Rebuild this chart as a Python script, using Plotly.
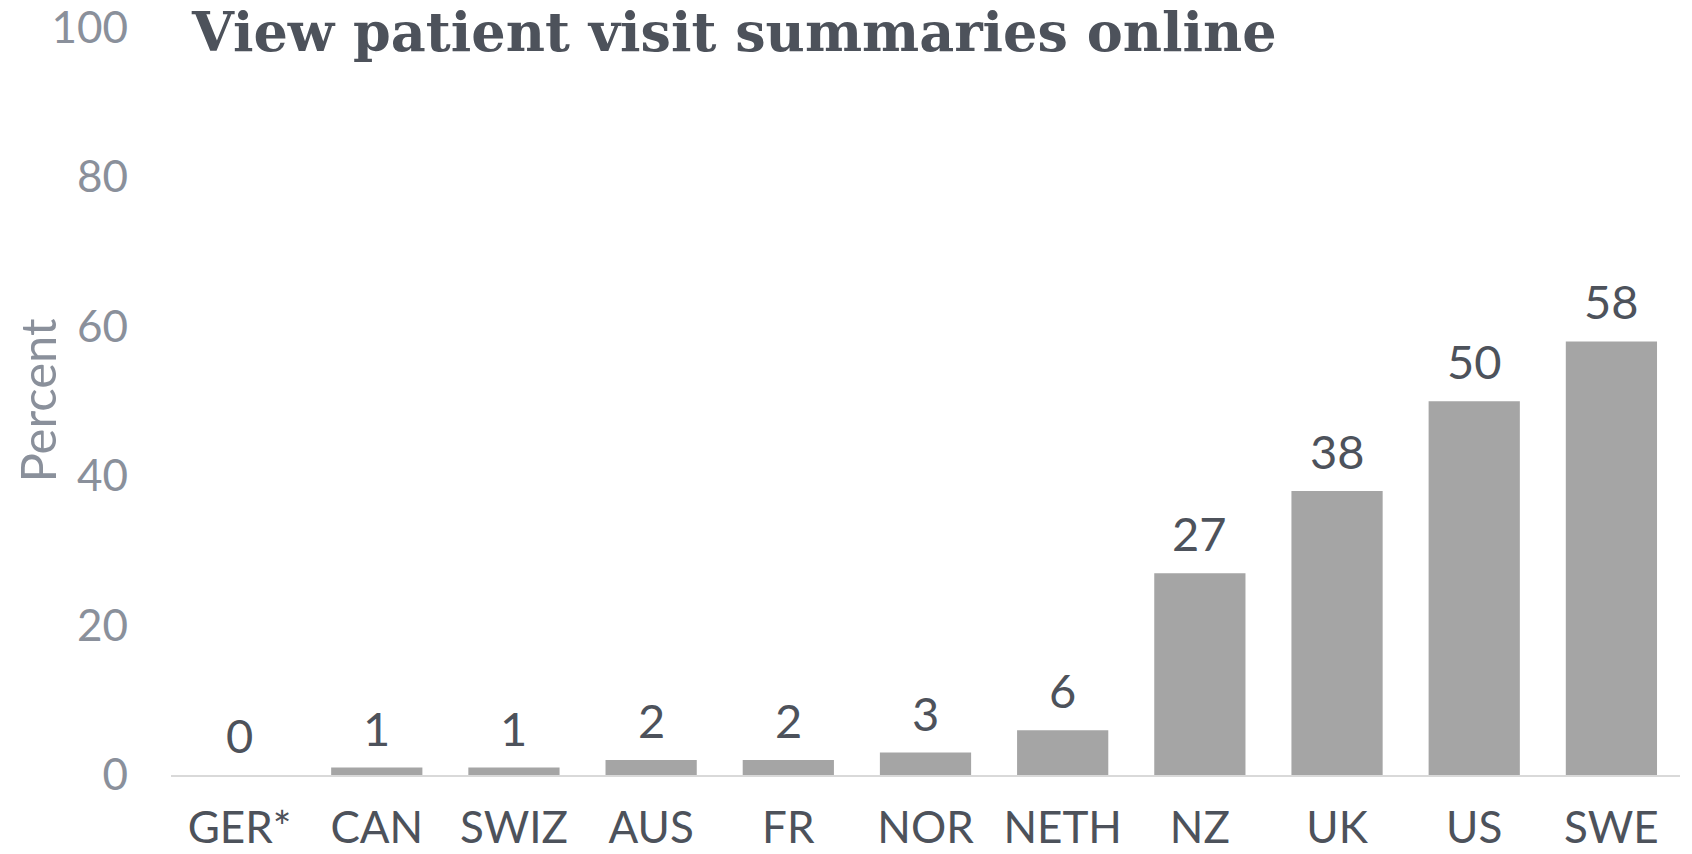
import plotly.graph_objects as go

categories = ["GER*", "CAN", "SWIZ", "AUS", "FR", "NOR", "NETH", "NZ", "UK", "US", "SWE"]
values = [0, 1, 1, 2, 2, 3, 6, 27, 38, 50, 58]
y_ticks = [0, 20, 40, 60, 80, 100]
title_text = "View patient visit summaries online"
y_title = "Percent"

BAR = "#a5a5a5"
DARK = "#4d525b"
LIGHT = "#8a909b"
SANS = "Lato, 'Open Sans', sans-serif"

fig = go.Figure()
fig.add_trace(go.Bar(x=categories, y=values, marker=dict(color=BAR, line=dict(width=0)),
                     hoverinfo="skip"))

for c, v in zip(categories, values):
    fig.add_annotation(x=c, y=v, text=str(v), showarrow=False, yanchor="bottom",
                       yshift=10, font=dict(family=SANS, size=47, color=DARK))

fig.add_annotation(xref="paper", yref="paper", x=0.012, y=1.0, xanchor="left", yanchor="middle",
                   yshift=-6, text="<b>" + title_text + "</b>", showarrow=False,
                   font=dict(family="'DejaVu Serif', serif", size=54, color=DARK))

fig.update_layout(
    width=1684, height=846,
    margin=dict(l=163, r=12, t=18, b=79),
    paper_bgcolor="white", plot_bgcolor="white",
    bargap=0.335,
    showlegend=False,
    xaxis=dict(showline=True, linecolor="#d9d9d9", linewidth=2, ticks="",
               tickfont=dict(family=SANS, size=44, color=DARK), ticklabelstandoff=13,
               showgrid=False, zeroline=False, automargin=False),
    yaxis=dict(range=[0, 100.2], tickvals=y_ticks, showgrid=False, zeroline=False, showline=False,
               tickfont=dict(family=SANS, size=44, color=LIGHT), ticklabelstandoff=42,
               automargin=False, ticklabeloverflow="allow",
               title=dict(text=y_title, font=dict(family=SANS, size=49, color=LIGHT), standoff=14)),
)

fig.write_html("out.html")
